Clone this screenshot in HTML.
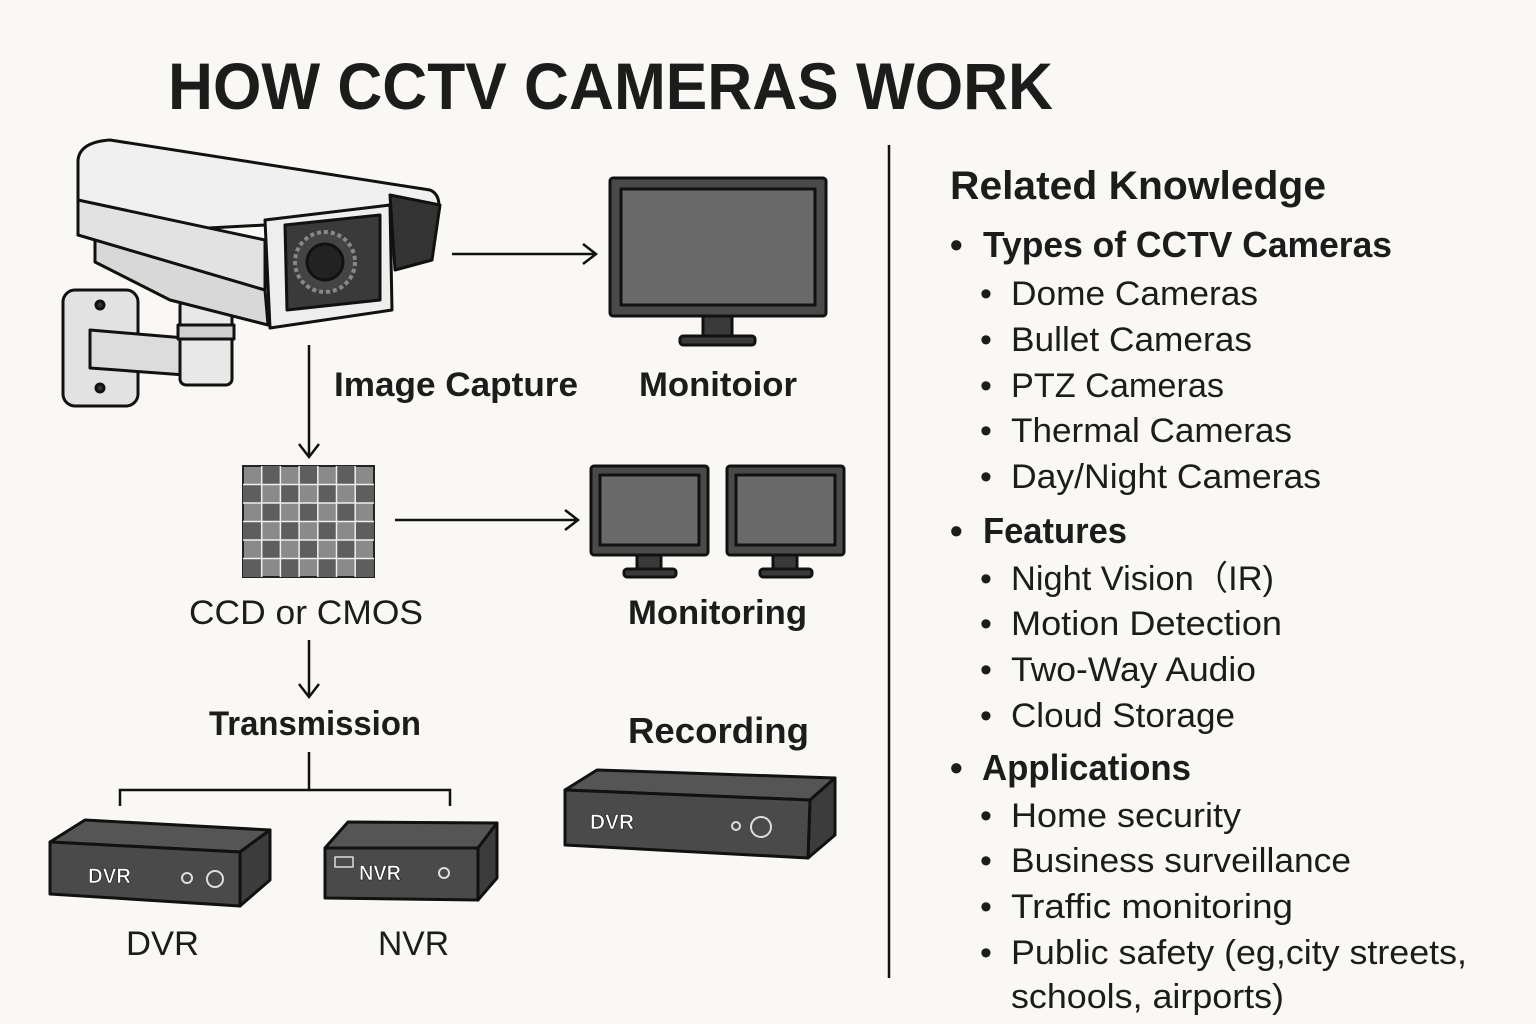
<!DOCTYPE html>
<html><head><meta charset="utf-8"><style>
body{margin:0;background:#f9f8f4;}
svg{display:block;}
text{font-family:"Liberation Sans","DejaVu Sans",sans-serif;fill:#1c1c1c;}
</style></head><body>
<svg width="1536" height="1024" viewBox="0 0 1536 1024">
<rect width="1536" height="1024" fill="#f9f8f4"/>
<text x="168" y="109" font-size="66" font-weight="bold" textLength="885" lengthAdjust="spacingAndGlyphs">HOW CCTV CAMERAS WORK</text>

<!-- camera -->
<g stroke="#111" stroke-width="3" stroke-linejoin="round">
<rect x="63" y="290" width="75" height="116" rx="12" fill="#e2e2e2"/>
<circle cx="100" cy="305" r="4" fill="#333"/><circle cx="100" cy="388" r="4" fill="#333"/>
<polygon points="90,330 185,338 185,375 90,368" fill="#dcdcdc"/>
<rect x="180" y="300" width="52" height="85" rx="6" fill="#e8e8e8"/>
<rect x="178" y="325" width="56" height="14" fill="#cfcfcf"/>
<polygon points="95,235 265,290 268,325 170,300 95,262" fill="#d8d8d8"/>
<path d="M78,160 Q80,142 110,140 L430,190 Q442,195 438,215 L390,205 L265,225 L78,235 Z" fill="#f0f0f0"/>
<polygon points="78,200 265,240 265,290 78,235" fill="#e2e2e2"/>
<polygon points="390,195 440,205 432,260 395,270" fill="#333"/>
<polygon points="265,220 390,205 392,310 270,328" fill="#eeeeee"/>
<polygon points="285,225 380,215 380,300 287,310" fill="#3a3a3a"/>
<circle cx="325" cy="262" r="30" fill="#444" stroke="#888" stroke-width="4" stroke-dasharray="4 3"/>
<circle cx="325" cy="262" r="18" fill="#222"/>
</g>

<!-- monitor 1 -->
<g stroke="#111" stroke-width="3">
<rect x="610" y="178" width="216" height="138" rx="3" fill="#4a4a4a"/>
<rect x="621" y="189" width="194" height="116" fill="#6a6a6a"/>
<rect x="703" y="316" width="29" height="20" fill="#3a3a3a"/>
<rect x="680" y="336" width="75" height="9" rx="3" fill="#3a3a3a"/>
</g>
<!-- arrows -->
<g stroke="#111" stroke-width="2.5" fill="none">
<line x1="452" y1="254" x2="595" y2="254"/><polyline points="583,244 596,254 583,264"/>
<line x1="395" y1="520" x2="577" y2="520"/><polyline points="565,510 578,520 565,530"/>
<line x1="309" y1="345" x2="309" y2="456"/><polyline points="299,444 309,457 319,444"/>
<line x1="309" y1="640" x2="309" y2="696"/><polyline points="299,684 309,697 319,684"/>
<polyline points="309,752 309,790 120,790 120,806"/><polyline points="309,790 450,790 450,806"/>
<line x1="889" y1="145" x2="889" y2="978"/>
</g>
<text x="334" y="396" font-size="34" font-weight="bold" textLength="244" lengthAdjust="spacingAndGlyphs">Image Capture</text>
<text x="639" y="396" font-size="34" font-weight="bold" textLength="158" lengthAdjust="spacingAndGlyphs">Monitoior</text>

<!-- grid -->
<g stroke="#222" stroke-width="2">
<rect x="243" y="466" width="131" height="111" fill="#8a8a8a"/>
<g fill="#5e5e5e" stroke="none">
<rect x="261.7" y="466" width="18.7" height="18.5"/><rect x="299.1" y="466" width="18.7" height="18.5"/><rect x="336.5" y="466" width="18.7" height="18.5"/>
<rect x="243" y="484.5" width="18.7" height="18.5"/><rect x="280.4" y="484.5" width="18.7" height="18.5"/><rect x="317.8" y="484.5" width="18.7" height="18.5"/><rect x="355.2" y="484.5" width="18.7" height="18.5"/>
<rect x="261.7" y="503" width="18.7" height="18.5"/><rect x="299.1" y="503" width="18.7" height="18.5"/><rect x="336.5" y="503" width="18.7" height="18.5"/>
<rect x="243" y="521.5" width="18.7" height="18.5"/><rect x="280.4" y="521.5" width="18.7" height="18.5"/><rect x="317.8" y="521.5" width="18.7" height="18.5"/><rect x="355.2" y="521.5" width="18.7" height="18.5"/>
<rect x="261.7" y="540" width="18.7" height="18.5"/><rect x="299.1" y="540" width="18.7" height="18.5"/><rect x="336.5" y="540" width="18.7" height="18.5"/>
<rect x="243" y="558.5" width="18.7" height="18.5"/><rect x="280.4" y="558.5" width="18.7" height="18.5"/><rect x="317.8" y="558.5" width="18.7" height="18.5"/><rect x="355.2" y="558.5" width="18.7" height="18.5"/>
</g>
<path d="M261.7 466V577M280.4 466V577M299.1 466V577M317.8 466V577M336.5 466V577M355.2 466V577M243 484.5H374M243 503H374M243 521.5H374M243 540H374M243 558.5H374" fill="none" stroke="#eee" stroke-width="1.5"/>
</g>
<text x="189" y="624" font-size="34" textLength="234" lengthAdjust="spacingAndGlyphs">CCD or CMOS</text>

<!-- two monitors -->
<g stroke="#111" stroke-width="3">
<rect x="591" y="466" width="117" height="89" rx="3" fill="#4a4a4a"/><rect x="600" y="475" width="99" height="70" fill="#6a6a6a"/>
<rect x="637" y="555" width="24" height="15" fill="#3a3a3a"/><rect x="624" y="569" width="52" height="8" rx="3" fill="#3a3a3a"/>
<rect x="727" y="466" width="117" height="89" rx="3" fill="#4a4a4a"/><rect x="736" y="475" width="99" height="70" fill="#6a6a6a"/>
<rect x="773" y="555" width="24" height="15" fill="#3a3a3a"/><rect x="760" y="569" width="52" height="8" rx="3" fill="#3a3a3a"/>
</g>
<text x="628" y="624" font-size="34" font-weight="bold" textLength="179" lengthAdjust="spacingAndGlyphs">Monitoring</text>
<text x="209" y="735" font-size="34" font-weight="bold" textLength="212" lengthAdjust="spacingAndGlyphs">Transmission</text>
<text x="628" y="743" font-size="36" font-weight="bold" textLength="181" lengthAdjust="spacingAndGlyphs">Recording</text>

<!-- boxes -->
<g stroke="#111" stroke-width="3" stroke-linejoin="round">
<polygon points="50,842 85,820 270,830 240,852" fill="#555"/>
<polygon points="240,852 270,830 270,880 240,906" fill="#3c3c3c"/>
<polygon points="50,842 240,852 240,906 50,894" fill="#4a4a4a"/>
<circle cx="187" cy="878" r="5" fill="none" stroke="#ddd" stroke-width="2"/><circle cx="215" cy="879" r="8" fill="none" stroke="#ddd" stroke-width="2"/>
<polygon points="325,848 348,822 497,823 478,848" fill="#555"/>
<polygon points="478,848 497,823 497,878 478,900" fill="#3c3c3c"/>
<polygon points="325,848 478,848 478,900 325,898" fill="#4a4a4a"/>
<circle cx="444" cy="873" r="5" fill="none" stroke="#ddd" stroke-width="2"/>
<rect x="335" y="857" width="18" height="10" fill="none" stroke="#ddd" stroke-width="1.5"/>
<polygon points="565,790 597,770 835,778 810,800" fill="#555"/>
<polygon points="810,800 835,778 835,835 808,858" fill="#3c3c3c"/>
<polygon points="565,790 810,800 808,858 565,845" fill="#4a4a4a"/>
<circle cx="736" cy="826" r="4" fill="none" stroke="#ddd" stroke-width="2"/><circle cx="761" cy="827" r="10" fill="none" stroke="#ddd" stroke-width="2"/>
</g>
<g font-weight="bold" font-size="21">
<text x="88" y="883" style="fill:#fff;stroke:#111;stroke-width:0.6" textLength="43" lengthAdjust="spacingAndGlyphs">DVR</text>
<text x="359" y="880" style="fill:#fff;stroke:#111;stroke-width:0.6" textLength="42" lengthAdjust="spacingAndGlyphs">NVR</text>
<text x="590" y="829" style="fill:#fff;stroke:#111;stroke-width:0.6" textLength="44" lengthAdjust="spacingAndGlyphs">DVR</text>
</g>
<text x="126" y="955" font-size="34" textLength="73" lengthAdjust="spacingAndGlyphs">DVR</text>
<text x="378" y="955" font-size="34" textLength="71" lengthAdjust="spacingAndGlyphs">NVR</text>

<!-- right list -->
<text x="950" y="199" font-size="40" font-weight="bold" textLength="376" lengthAdjust="spacingAndGlyphs">Related Knowledge</text>
<g font-size="36" font-weight="bold">
<text x="950" y="257">•</text><text x="983" y="257" textLength="409" lengthAdjust="spacingAndGlyphs">Types of CCTV Cameras</text>
<text x="950" y="543">•</text><text x="983" y="543" textLength="144" lengthAdjust="spacingAndGlyphs">Features</text>
<text x="950" y="780">•</text><text x="982" y="780" textLength="209" lengthAdjust="spacingAndGlyphs">Applications</text>
</g>
<g font-size="34">
<text x="980" y="305">•</text><text x="1011" y="305" textLength="247" lengthAdjust="spacingAndGlyphs">Dome Cameras</text>
<text x="980" y="351">•</text><text x="1011" y="351" textLength="241" lengthAdjust="spacingAndGlyphs">Bullet Cameras</text>
<text x="980" y="397">•</text><text x="1011" y="397" textLength="213" lengthAdjust="spacingAndGlyphs">PTZ Cameras</text>
<text x="980" y="442">•</text><text x="1011" y="442" textLength="281" lengthAdjust="spacingAndGlyphs">Thermal Cameras</text>
<text x="980" y="488">•</text><text x="1011" y="488" textLength="310" lengthAdjust="spacingAndGlyphs">Day/Night Cameras</text>
<text x="980" y="590">•</text><text x="1011" y="590" textLength="263" lengthAdjust="spacingAndGlyphs">Night Vision（IR)</text>
<text x="980" y="635">•</text><text x="1011" y="635" textLength="271" lengthAdjust="spacingAndGlyphs">Motion Detection</text>
<text x="980" y="681">•</text><text x="1011" y="681" textLength="245" lengthAdjust="spacingAndGlyphs">Two-Way Audio</text>
<text x="980" y="727">•</text><text x="1011" y="727" textLength="224" lengthAdjust="spacingAndGlyphs">Cloud Storage</text>
<text x="980" y="827">•</text><text x="1011" y="827" textLength="230" lengthAdjust="spacingAndGlyphs">Home security</text>
<text x="980" y="872">•</text><text x="1011" y="872" textLength="340" lengthAdjust="spacingAndGlyphs">Business surveillance</text>
<text x="980" y="918">•</text><text x="1011" y="918" textLength="282" lengthAdjust="spacingAndGlyphs">Traffic monitoring</text>
<text x="980" y="964">•</text><text x="1011" y="964" textLength="456" lengthAdjust="spacingAndGlyphs">Public safety (eg,city streets,</text>
<text x="1011" y="1008" textLength="273" lengthAdjust="spacingAndGlyphs">schools, airports)</text>
</g>
</svg>
</body></html>
